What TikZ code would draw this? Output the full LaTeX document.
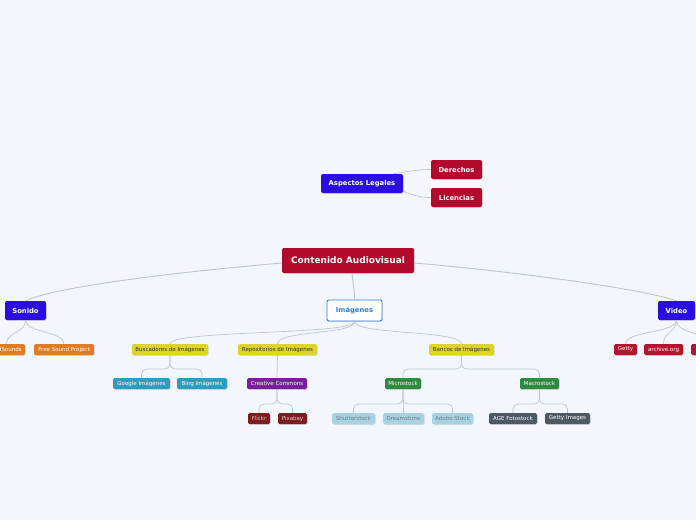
\documentclass[tikz,border=0pt]{standalone}
\usepackage{fontspec}
\setmainfont{DejaVu Sans}
\usetikzlibrary{shadows}
\definecolor{bg}{HTML}{F3F6FD}
\definecolor{crim}{HTML}{B10A2C}
\definecolor{topblue}{HTML}{2A0DE0}
\definecolor{imgblue}{HTML}{2F7AE5}
\definecolor{ylw}{HTML}{DCD428}
\definecolor{orng}{HTML}{E07B22}
\definecolor{teal}{HTML}{2B9DBF}
\definecolor{purp}{HTML}{7B1E9E}
\definecolor{dred}{HTML}{7D1E1E}
\definecolor{grn}{HTML}{2E8A3E}
\definecolor{lblue}{HTML}{A5D3E2}
\definecolor{slate}{HTML}{4C5A66}
\definecolor{vred}{HTML}{B3142F}
\definecolor{conncol}{HTML}{BFC3CC}
\tikzset{
  box/.style={rounded corners=2pt, inner sep=0pt, align=center, text=white,
    drop shadow={shadow xshift=0.6pt, shadow yshift=-0.8pt, opacity=0.25}},
  rootbox/.style={box, fill=crim, minimum height=25pt, font=\fontsize{9}{10}\selectfont\bfseries},
  topbox/.style={box, minimum height=19pt, font=\fontsize{6.8}{8}\selectfont\bfseries},
  smallbox/.style={box, minimum height=11pt, font=\fontsize{5.5}{6}\selectfont, rounded corners=1.5pt},
  conn/.style={draw=conncol, line width=0.9pt},
  sconn/.style={draw=conncol, line width=0.7pt},
  elbow/.style={sconn, rounded corners=5pt},
}
\begin{document}
\begin{tikzpicture}[x=1pt,y=-1pt]
\fill[bg] (0,0) rectangle (696,520);
\useasboundingbox (0,0) rectangle (696,520);

% main nodes
\node[rootbox, minimum width=132pt] (root) at (348,260.5) {Contenido Audiovisual};
\node[topbox, fill=topblue, minimum width=82pt] (asp) at (362,183.5) {Aspectos Legales};
\node[topbox, fill=crim, minimum width=51pt] (der) at (456.5,169.5) {Derechos};
\node[topbox, fill=crim, minimum width=51pt] (lic) at (456.5,197.5) {Licencias};
\node[topbox, fill=topblue, minimum width=41pt] (son) at (25.5,310.5) {Sonido};
\node[topbox, fill=white, draw=imgblue, line width=0.9pt, text=imgblue, minimum width=55pt, minimum height=21pt] (img) at (354.5,310.5) {Imágenes};
\node[topbox, fill=topblue, minimum width=37pt] (vid) at (676.5,310.5) {Video};

% Sonido children
\node[smallbox, fill=orng, minimum width=38pt] (finds) at (6,349.5) {FindSounds};
\node[smallbox, fill=orng, minimum width=60pt] (fsp) at (64,349.5) {Free Sound Project};

% Imagenes children
\node[smallbox, fill=ylw, text=black!80, minimum width=76pt] (busc) at (170,349.5) {Buscadores de Imágenes};
\node[smallbox, fill=ylw, text=black!80, minimum width=79pt] (repo) at (277.5,349.5) {Repositorios de Imágenes};
\node[smallbox, fill=ylw, text=black!80, minimum width=65pt] (banc) at (461.5,349.5) {Bancos de Imágenes};
\node[smallbox, fill=teal, minimum width=57pt] (goog) at (141.5,383.5) {Google Imágenes};
\node[smallbox, fill=teal, minimum width=50pt] (bing) at (202,383.5) {Bing Imágenes};
\node[smallbox, fill=purp, minimum width=60pt] (cc) at (277,383.5) {Creative Commons};
\node[smallbox, fill=dred, text=red!15!white!80!gray, minimum width=22pt] (flk) at (259,418.5) {Flickr};
\node[smallbox, fill=dred, text=red!15!white!80!gray, minimum width=29pt] (pix) at (292.5,418.5) {Pixabay};
\node[smallbox, fill=grn, minimum width=36pt] (micro) at (403,383.5) {Microstock};
\node[smallbox, fill=grn, minimum width=39pt] (macro) at (539.5,383.5) {Macrostock};
\node[smallbox, fill=lblue, text=slate!80, minimum width=43pt] (shut) at (353.5,418.5) {Shutterstock};
\node[smallbox, fill=lblue, text=slate!80, minimum width=41pt] (dream) at (403.5,418.5) {Dreamstime};
\node[smallbox, fill=lblue, text=slate!80, minimum width=41pt] (adobe) at (452.5,418.5) {Adobe Stock};
\node[smallbox, fill=slate, minimum width=48pt] (age) at (513,418.5) {AGE Fotostock};
\node[smallbox, fill=slate, minimum width=45pt] (gimg) at (567.5,418.5) {Getty Images};

% Video children
\node[smallbox, fill=vred, minimum width=23pt] (getty) at (625.5,349.5) {Getty};
\node[smallbox, fill=vred, minimum width=39pt] (arch) at (663.5,349.5) {archive.org};
\node[smallbox, fill=vred, minimum width=45pt] (stock) at (713.5,349.5) {Shutterstock};

% connectors from root
\draw[conn] (root.west) ++(0,2.5) coordinate (rw) (rw) .. controls (200,270) and (60,285) .. (son.north);
\draw[conn] (root.east) ++(0,2.5) coordinate (re) (re) .. controls (500,270) and (640,288) .. (vid.north);
\draw[conn] ([xshift=4pt]root.south) .. controls (353,285) and (355,292) .. (img.north);

% aspectos legales
\draw[sconn] ([xshift=-10pt]asp.north east) .. controls (410,171) and (420,169.5) .. (der.west);
\draw[sconn] ([yshift=2pt]asp.south east) .. controls (412,195) and (420,197.5) .. (lic.west);

% Sonido children
\draw[sconn] (son.south) .. controls (25.5,333) and (64,331) .. (fsp.north);
\draw[sconn] (son.south) .. controls (25.5,333) and (8,331) .. (finds.north);

% Imagenes children
\draw[sconn] (img.south) .. controls (355,335) and (170,330) .. (busc.north);
\draw[sconn] (img.south) .. controls (355,335) and (278,330) .. (repo.north);
\draw[sconn] (img.south) .. controls (355,335) and (461.5,330) .. (banc.north);

% Video children
\draw[sconn] (vid.south) .. controls (676.5,333) and (625.5,331) .. (getty.north);
\draw[sconn] (vid.south) .. controls (676.5,333) and (663.5,331) .. (arch.north);
\draw[sconn] (vid.south) .. controls (676.5,333) and (700,331) .. (stock.north);

% elbows
\draw[elbow] (busc.south) -- (170,369) -| (goog.north);
\draw[elbow] (busc.south) -- (170,369) -| (bing.north);
\draw[sconn] (repo.south) -- (cc.north);
\draw[elbow] (cc.south) -- (277,404) -| (flk.north);
\draw[elbow] (cc.south) -- (277,404) -| (pix.north);
\draw[elbow] (banc.south) -- (461.5,369) -| (micro.north);
\draw[elbow] (banc.south) -- (461.5,369) -| (macro.north);
\draw[elbow] (micro.south) -- (403,404) -| (shut.north);
\draw[sconn] (micro.south) -- (dream.north);
\draw[elbow] (micro.south) -- (403,404) -| (adobe.north);
\draw[elbow] (macro.south) -- (539.5,404) -| (age.north);
\draw[elbow] (macro.south) -- (539.5,404) -| (gimg.north);
\end{tikzpicture}
\end{document}
